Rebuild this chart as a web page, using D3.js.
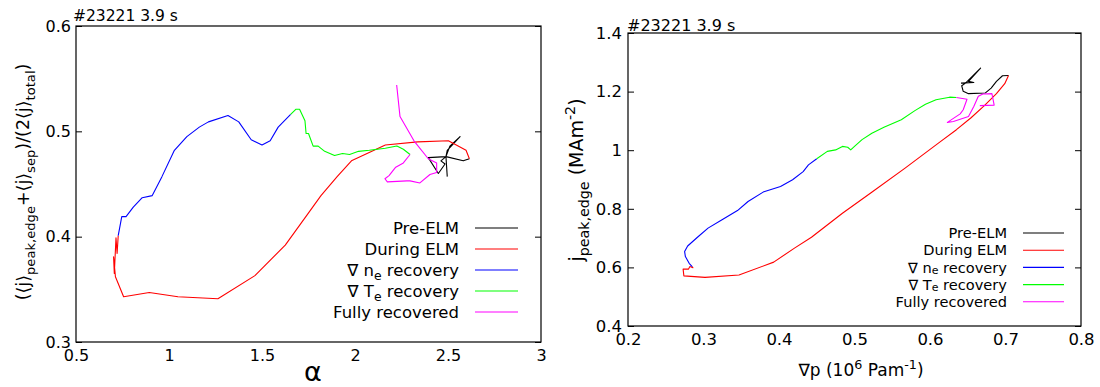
<!DOCTYPE html>
<html><head><meta charset="utf-8">
<script src="https://cdn.jsdelivr.net/npm/d3@7"></script>
<style>
body{margin:0;background:#fff}
svg{display:block}
text{font-family:"DejaVu Sans",sans-serif;fill:#000}
</style>
</head><body>
<svg id="c" width="1100" height="387"></svg>
<script>
// ---------------- data ----------------
const seriesNames = ["Pre-ELM", "During ELM", "∇ n_{e} recovery", "∇ T_{e} recovery", "Fully recovered"];
const seriesColors = ["#000000", "#ff0000", "#0000ff", "#00ff00", "#ff00ff"];
const shotLabel = "#23221 3.9 s";

// Left panel: alpha vs (<j>peak,edge + <j>sep)/(2<j>total)
const leftXTicks = [0.5, 1, 1.5, 2, 2.5, 3];
const leftYTicks = [0.3, 0.4, 0.5, 0.6];
const leftPreElm = [[2.496,0.457],[2.489,0.476],[2.462,0.472],[2.484,0.469],[2.448,0.460],[2.394,0.475],[2.489,0.476],[2.496,0.482],[2.565,0.495],[2.510,0.486],[2.489,0.476],[2.582,0.472],[2.615,0.474]];
const leftDuringElm = [[2.615,0.474],[2.597,0.482],[2.502,0.491],[2.337,0.490],[2.163,0.487],[1.981,0.472],[1.904,0.457],[1.817,0.439],[1.760,0.425],[1.625,0.392],[1.462,0.363],[1.263,0.341],[1.048,0.343],[0.894,0.347],[0.756,0.343],[0.712,0.362],[0.702,0.381],[0.706,0.365],[0.715,0.399],[0.721,0.384],[0.727,0.401]];
const leftNeRecovery = [[0.727,0.401],[0.746,0.419],[0.769,0.419],[0.808,0.428],[0.856,0.437],[0.910,0.439],[0.962,0.457],[1.029,0.482],[1.096,0.495],[1.163,0.504],[1.212,0.509],[1.317,0.515],[1.375,0.509],[1.442,0.492],[1.500,0.487],[1.544,0.491],[1.587,0.504],[1.654,0.516]];
const leftTeRecovery = [[1.654,0.516],[1.683,0.521],[1.702,0.521],[1.731,0.510],[1.737,0.498],[1.750,0.498],[1.775,0.486],[1.802,0.486],[1.837,0.481],[1.890,0.477],[1.933,0.479],[1.971,0.478],[2.019,0.481],[2.077,0.482],[2.163,0.484],[2.225,0.486],[2.260,0.483],[2.296,0.478]];
const leftFullyRecovered = [[2.296,0.478],[2.260,0.470],[2.219,0.466],[2.183,0.458],[2.161,0.455],[2.174,0.452],[2.279,0.453],[2.296,0.453],[2.349,0.451],[2.403,0.459],[2.439,0.461],[2.439,0.470],[2.394,0.474],[2.317,0.491],[2.242,0.514],[2.224,0.544]];

// Right panel: grad p vs j peak,edge
const rightXTicks = [0.2, 0.3, 0.4, 0.5, 0.6, 0.7, 0.8];
const rightYTicks = [0.4, 0.6, 0.8, 1, 1.2, 1.4];
const rightPreElm = [[0.641,1.229],[0.658,1.231],[0.651,1.235],[0.667,1.280],[0.656,1.252],[0.647,1.229],[0.642,1.220],[0.644,1.201],[0.651,1.193],[0.673,1.195],[0.681,1.212],[0.688,1.235],[0.696,1.254],[0.704,1.255]];
const rightDuringElm = [[0.704,1.255],[0.699,1.227],[0.688,1.193],[0.672,1.152],[0.654,1.110],[0.635,1.070],[0.612,1.026],[0.567,0.939],[0.521,0.853],[0.484,0.785],[0.443,0.703],[0.420,0.665],[0.393,0.618],[0.347,0.574],[0.302,0.566],[0.274,0.571],[0.273,0.594],[0.280,0.594],[0.282,0.603],[0.286,0.599],[0.285,0.603]];
const rightNeRecovery = [[0.285,0.603],[0.281,0.614],[0.276,0.637],[0.275,0.654],[0.279,0.673],[0.292,0.703],[0.306,0.734],[0.324,0.762],[0.345,0.794],[0.359,0.825],[0.379,0.857],[0.402,0.876],[0.418,0.899],[0.432,0.927],[0.439,0.950],[0.450,0.971]];
const rightTeRecovery = [[0.450,0.971],[0.464,0.996],[0.475,1.001],[0.484,1.013],[0.491,1.010],[0.495,1.001],[0.500,1.013],[0.510,1.036],[0.523,1.058],[0.539,1.078],[0.562,1.104],[0.580,1.135],[0.594,1.157],[0.608,1.172],[0.626,1.181],[0.635,1.180]];
const rightFullyRecovered = [[0.635,1.180],[0.649,1.174],[0.644,1.138],[0.640,1.124],[0.623,1.095],[0.631,1.098],[0.651,1.115],[0.658,1.149],[0.664,1.184],[0.670,1.192],[0.682,1.193],[0.685,1.154],[0.666,1.152]];

// ---------------- drawing ----------------
const svg = d3.select("#c");

// rich text: supports _{sub} and ^{sup}
function richText(sel, str, fs, subOff) {
  const so = subOff == null ? 0.32 : subOff;
  const re = /([_^])\{([^}]*)\}|[^_^]+/g;
  let m, cur = 0;
  while ((m = re.exec(str)) !== null) {
    let txt, off, size;
    if (m[1] === "_") { txt = m[2]; off = so * fs; size = fs * 0.75; }
    else if (m[1] === "^") { txt = m[2]; off = -0.42 * fs; size = fs * 0.75; }
    else { txt = m[0]; off = 0; size = fs; }
    sel.append("tspan").attr("dy", (off - cur) + "px").attr("font-size", size + "px").text(txt);
    cur = off;
  }
}

function panel(p) {
  const g = svg.append("g");
  const x = d3.scaleLinear().domain(p.xDomain).range(p.xRange);
  const y = d3.scaleLinear().domain(p.yDomain).range(p.yRange);

  // axes
  const ax = g.append("g").attr("transform", `translate(0,${p.yRange[0]})`)
    .call(d3.axisBottom(x).tickValues(p.xTicks).tickSizeInner(0).tickSizeOuter(0).tickPadding(p.xPad).tickFormat(d => String(d)));
  const ay = g.append("g").attr("transform", `translate(${p.xRange[0]},0)`)
    .call(d3.axisLeft(y).tickValues(p.yTicks).tickSizeInner(-6).tickSizeOuter(0).tickPadding(p.yPad).tickFormat(d => String(d)));
  const ay2 = g.append("g").attr("transform", `translate(${p.xRange[1]},0)`)
    .call(d3.axisRight(y).tickValues(p.yTicks).tickSizeInner(-6).tickSizeOuter(0).tickFormat(""));
  [ax, ay, ay2].forEach(a => {
    a.select(".domain").remove();
    a.selectAll("text").attr("font-size", p.tickFs + "px").attr("font-family", "DejaVu Sans").attr("fill", "#000");
    a.selectAll("line").attr("stroke", "#000");
  });

  // series
  const line = d3.line().x(d => x(d[0])).y(d => y(d[1]));
  p.series.forEach((s, i) => {
    g.append("path").datum(s).attr("d", line)
      .attr("fill", "none").attr("stroke", seriesColors[i]).attr("stroke-width", 1.1)
      .attr("stroke-linejoin", "round");
  });

  // frame
  g.append("rect").attr("x", p.xRange[0]).attr("y", p.yRange[1])
    .attr("width", p.xRange[1] - p.xRange[0]).attr("height", p.yRange[0] - p.yRange[1])
    .attr("fill", "none").attr("stroke", "#000").attr("stroke-width", 1.2);

  // legend
  seriesNames.forEach((n, i) => {
    const ly = p.legY + i * p.legStep;
    const t = g.append("text").attr("x", p.legTextX).attr("y", ly + 0.36 * p.legFs)
      .attr("text-anchor", "end").attr("font-size", p.legFs + "px");
    richText(t, n, p.legFs, p.legSub);
    g.append("line").attr("x1", p.legLine[0]).attr("x2", p.legLine[1])
      .attr("y1", ly).attr("y2", ly).attr("stroke", seriesColors[i]).attr("stroke-width", 1.1);
  });

  // shot label
  g.append("text").attr("x", p.shotPos[0]).attr("y", p.shotPos[1]).attr("font-size", p.shotFs + "px").text(shotLabel);

  // x title
  const xt = g.append("text").attr("x", p.xTitlePos[0]).attr("y", p.xTitlePos[1])
    .attr("text-anchor", "middle").attr("font-size", p.xTitleFs + "px");
  richText(xt, p.xTitle, p.xTitleFs);

  // y title
  const yt = g.append("text").attr("transform", `translate(${p.yTitlePos[0]},${p.yTitlePos[1]}) rotate(-90)`)
    .attr("text-anchor", "middle").attr("font-size", p.yTitleFs + "px");
  richText(yt, p.yTitle, p.yTitleFs);
}

panel({
  xDomain: [0.5, 3], xRange: [76, 541],
  yDomain: [0.3, 0.6], yRange: [342, 26],
  xTicks: leftXTicks, yTicks: leftYTicks, tickFs: 16, xPad: 8, yPad: 5,
  series: [leftPreElm, leftDuringElm, leftNeRecovery, leftTeRecovery, leftFullyRecovered],
  legY: 228, legStep: 21, legTextX: 459, legLine: [475, 518], legFs: 16.5, legSub: 0.22,
  shotPos: [73, 21], shotFs: 15.5,
  xTitle: "α", xTitlePos: [313, 381], xTitleFs: 27,
  yTitle: "(⟨j⟩_{peak,edge}+⟨j⟩_{sep})/(2⟨j⟩_{total})", yTitlePos: [29, 182], yTitleFs: 17.5
});

panel({
  xDomain: [0.2, 0.8], xRange: [628, 1081],
  yDomain: [0.4, 1.4], yRange: [326, 33],
  xTicks: rightXTicks, yTicks: rightYTicks, tickFs: 16.5, xPad: 7, yPad: 6,
  series: [rightPreElm, rightDuringElm, rightNeRecovery, rightTeRecovery, rightFullyRecovered],
  legY: 233, legStep: 17.2, legTextX: 1007, legLine: [1023, 1064], legFs: 14.6, legSub: 0.1,
  shotPos: [627, 31], shotFs: 16,
  xTitle: "∇p (10^{6} Pam^{-1})", xTitlePos: [861, 376], xTitleFs: 17,
  yTitle: "j_{peak,edge} (MAm^{-2})", yTitlePos: [583, 180], yTitleFs: 19
});
</script>
</body></html>
